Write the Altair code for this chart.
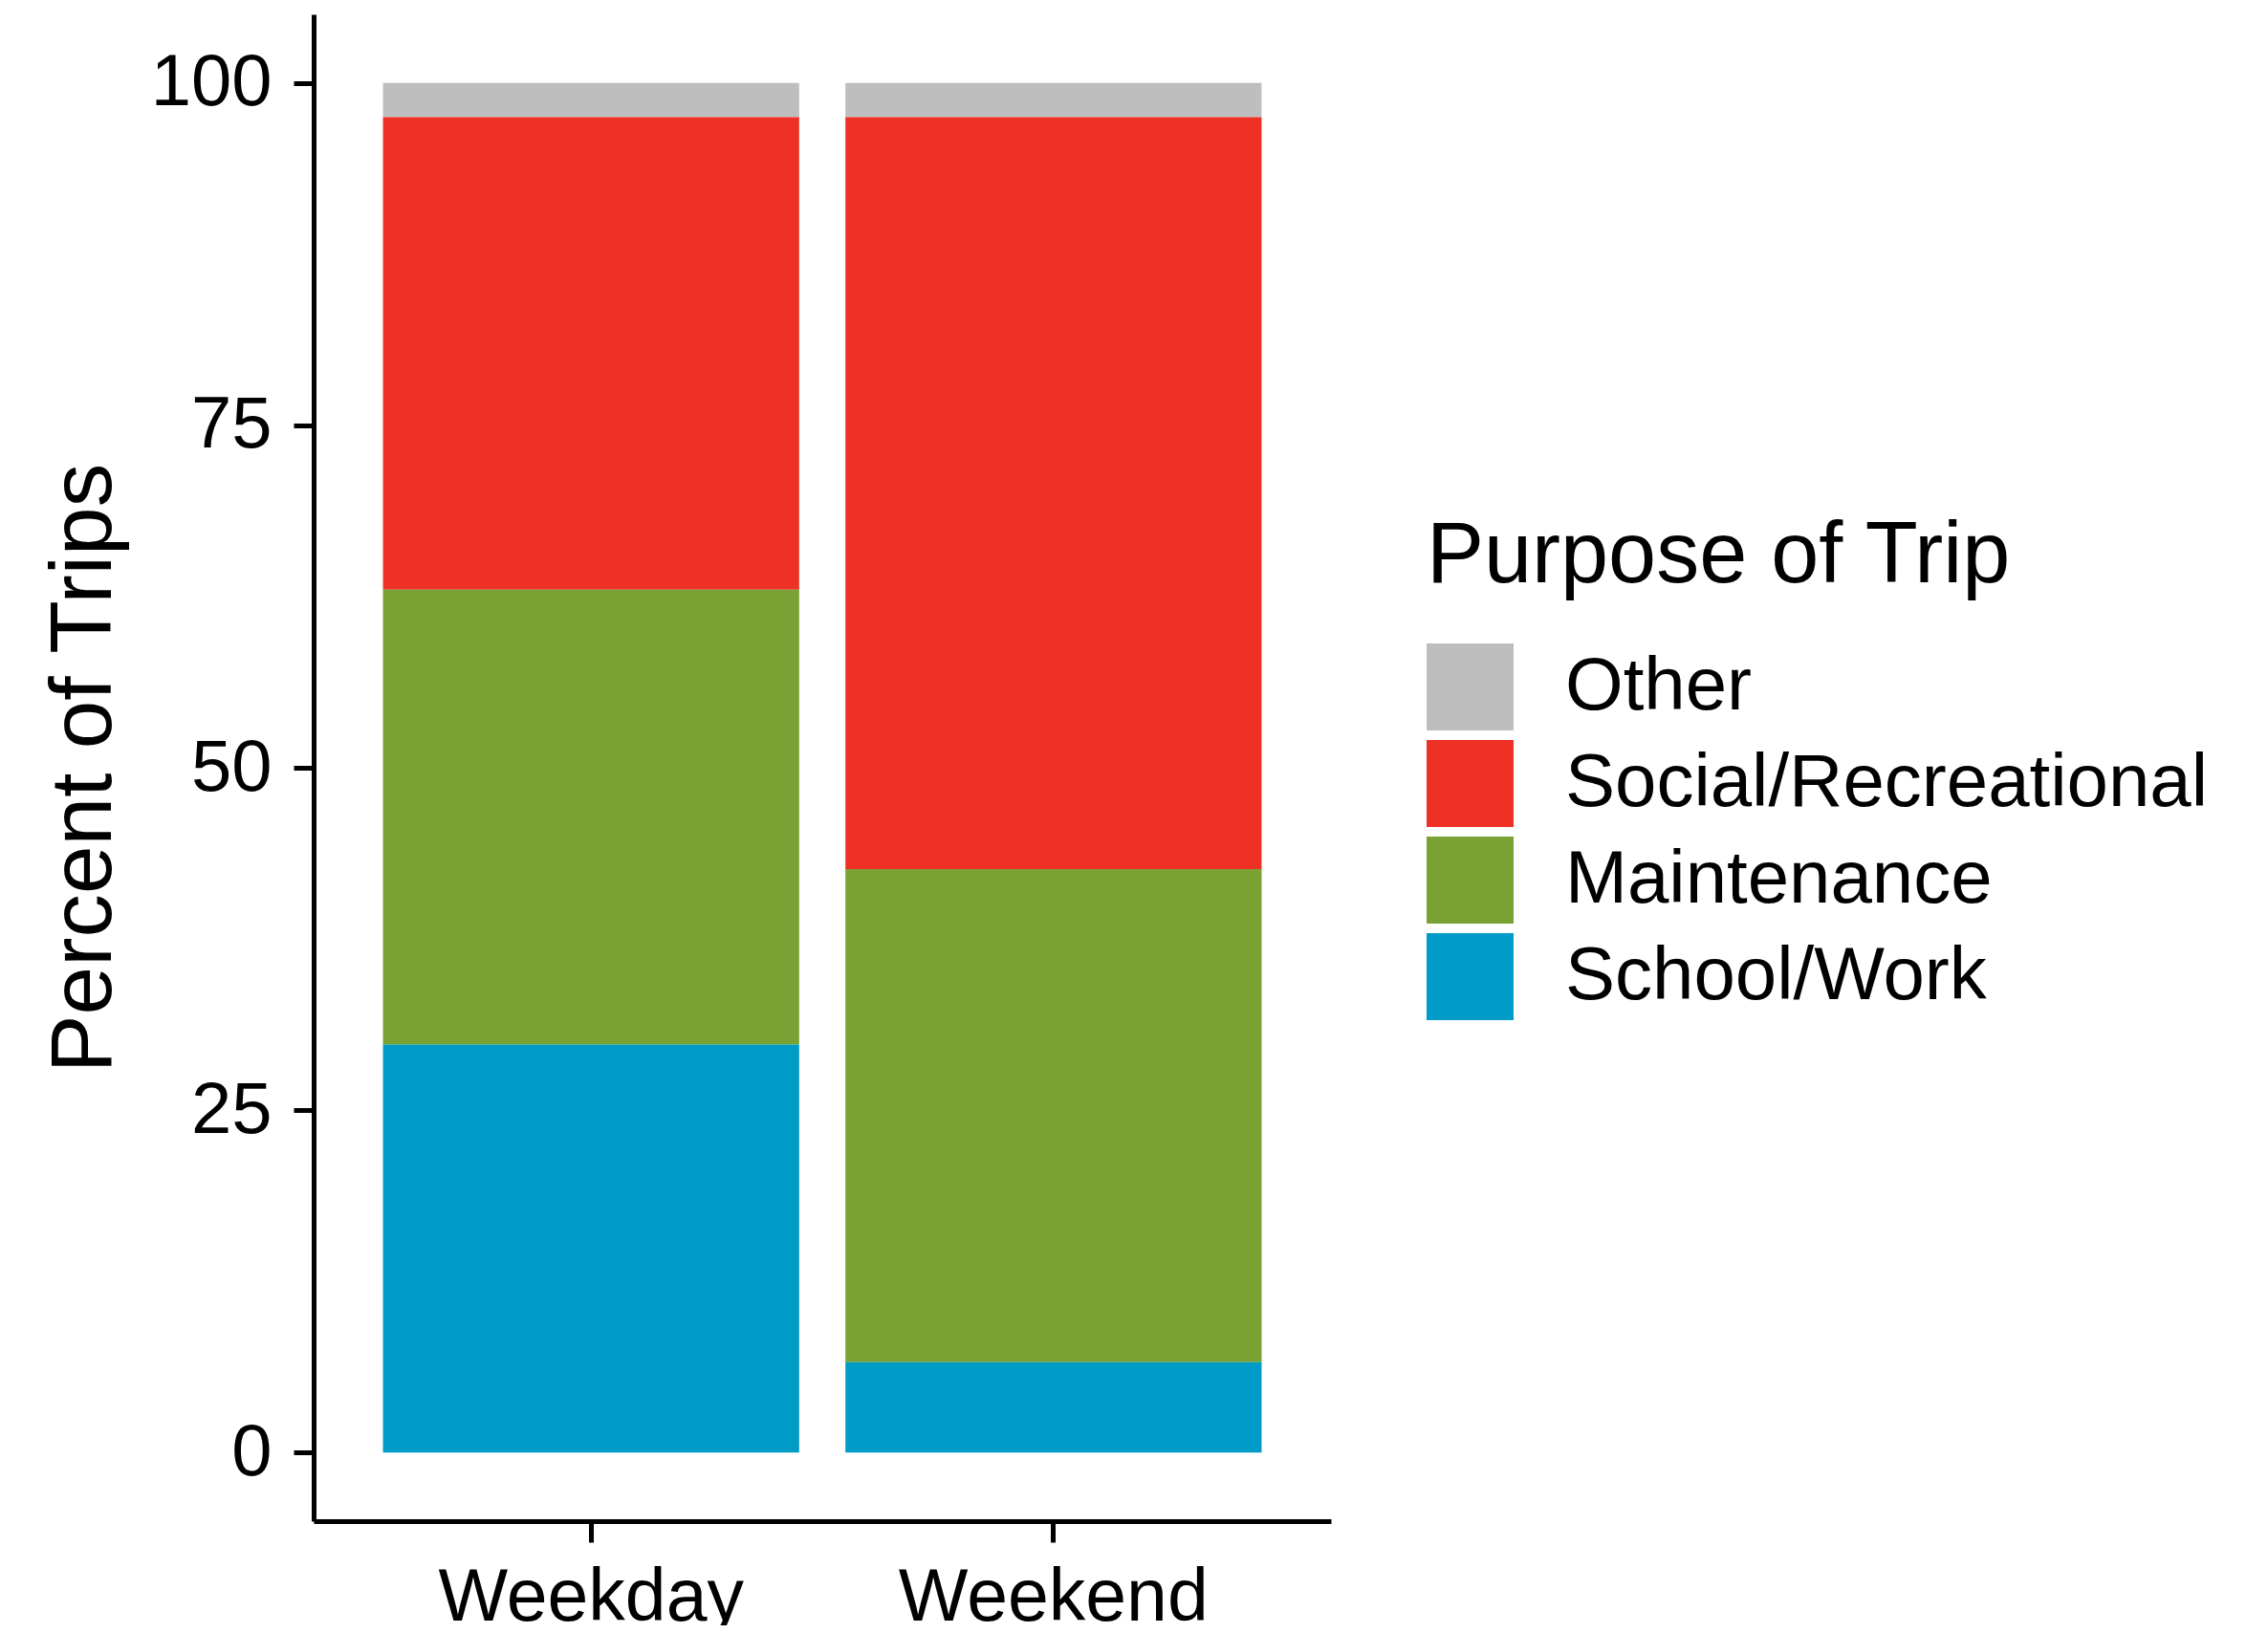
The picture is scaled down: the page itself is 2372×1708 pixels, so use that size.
import altair as alt
import pandas as pd

days = ["Weekday", "Weekend"]
purposes = ["Other", "Social/Recreational", "Maintenance", "School/Work"]
weekday_pct = [2.5, 34.5, 33.2, 29.8]
weekend_pct = [2.5, 54.9, 36.0, 6.6]
colors = ["#BEBEBE", "#EE3124", "#7AA133", "#009BC6"]
y_ticks = [0, 25, 50, 75, 100]

rows = []
for day, vals in zip(days, [weekday_pct, weekend_pct]):
    for i, (p, v) in enumerate(zip(purposes, vals)):
        rows.append({"day": day, "purpose": p, "pct": v,
                     "stack_order": len(purposes) - 1 - i})
df = pd.DataFrame(rows)

FONT = "Liberation Sans"

chart = alt.Chart(df).mark_bar().encode(
    x=alt.X(
        "day:N", sort=days,
        scale=alt.Scale(paddingInner=0.1, paddingOuter=0.15),
        axis=alt.Axis(title="", labelAngle=0, labelFontSize=77,
                      tickSize=22, labelPadding=20, labelLimit=0),
    ),
    y=alt.Y(
        "pct:Q", stack="zero",
        scale=alt.Scale(domain=[-5, 105], nice=False, zero=False),
        axis=alt.Axis(values=y_ticks, title="Percent of Trips",
                      labelFontSize=76, tickSize=21, labelPadding=23,
                      labelLimit=0,
                      titleFontSize=91, titleAngle=270, titleX=-213,
                      titleY=788, titleBaseline="alphabetic",
                      titleAlign="center"),
    ),
    color=alt.Color(
        "purpose:N", sort=purposes,
        scale=alt.Scale(domain=purposes, range=colors),
        legend=alt.Legend(
            title="Purpose of Trip", orient="none", legendX=1164,
            legendY=523, titleFontSize=90, titleFontWeight="normal",
            titleFont=FONT, titleColor="black", titlePadding=45,
            titleLimit=0,
            labelFontSize=78, labelFont=FONT, labelColor="black",
            labelOffset=54, labelLimit=0, symbolType="square",
            symbolSize=8281, symbolStrokeWidth=0, symbolOpacity=1,
            rowPadding=10,
        ),
    ),
    order=alt.Order("stack_order:Q", sort="ascending"),
).properties(
    width=1064, height=1576,
    autosize=alt.AutoSizeParams(type="none"),
    padding={"left": 320, "top": 7, "right": 950, "bottom": 109},
).configure_view(strokeWidth=0).configure_axis(
    grid=False, domainColor="black", domainWidth=5, tickColor="black",
    tickWidth=5, labelColor="black", titleColor="black", labelFont=FONT,
    titleFont=FONT, titleFontWeight="normal",
)

chart.save("out.html", embed_options={"renderer": "svg", "actions": False})
